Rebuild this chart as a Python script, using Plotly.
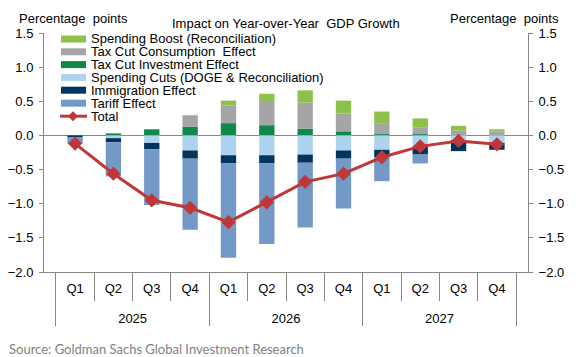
import plotly.graph_objects as go

# ---------------- data ----------------
years = ["2025"] * 4 + ["2026"] * 4 + ["2027"] * 4
quarters = ["Q1", "Q2", "Q3", "Q4"] * 3

spending_boost = [0.00, 0.00, 0.00, 0.01, 0.07, 0.12, 0.18, 0.19, 0.18, 0.13, 0.07, 0.03]
tax_consumption = [0.00, 0.00, 0.00, 0.16, 0.26, 0.34, 0.38, 0.26, 0.15, 0.10, 0.07, 0.06]
tax_investment = [0.00, 0.03, 0.09, 0.13, 0.18, 0.15, 0.10, 0.06, 0.02, 0.02, 0.00, 0.00]
spending_cuts = [0.00, -0.04, -0.11, -0.22, -0.29, -0.29, -0.28, -0.22, -0.21, -0.16, -0.07, -0.11]
immigration = [-0.03, -0.06, -0.09, -0.12, -0.12, -0.12, -0.12, -0.12, -0.11, -0.12, -0.16, -0.10]
tariff = [-0.09, -0.50, -0.82, -1.04, -1.38, -1.18, -0.95, -0.73, -0.35, -0.13, 0.00, 0.00]
total = [-0.12, -0.56, -0.95, -1.06, -1.27, -0.98, -0.68, -0.56, -0.32, -0.16, -0.08, -0.13]

names = {
    "boost": "Spending Boost (Reconciliation)",
    "cons": "Tax Cut Consumption\u00a0 Effect",
    "inv": "Tax Cut Investment Effect",
    "cuts": "Spending Cuts (DOGE & Reconciliation)",
    "imm": "Immigration Effect",
    "tar": "Tariff Effect",
    "tot": "Total",
}
colors = {
    "boost": "#8DC14B",
    "cons": "#A5A5A5",
    "inv": "#10884A",
    "cuts": "#AED3EF",
    "imm": "#003560",
    "tar": "#7399C6",
    "tot": "#C0373A",
}

# ---------------- geometry ----------------
W, H = 576, 357
L, R, T, B = 44, 48, 33, 85
PW, PH = W - L - R, H - T - B
GRAY = "#868686"
FONT = "Liberation Sans, Arial, sans-serif"


def px(x):
    return (x - L) / PW


def py(y):
    return (H - B - y) / PH


# second-level (year) labels get a blank first line so they sit lower, as in the reference
year_labels = ["\u00a0<br>" + y for y in years]
x = [year_labels, quarters]
fig = go.Figure()
for key, vals in [("inv", tax_investment), ("cons", tax_consumption), ("boost", spending_boost),
                  ("cuts", spending_cuts), ("imm", immigration), ("tar", tariff)]:
    fig.add_trace(go.Bar(x=x, y=vals, name=names[key], marker=dict(color=colors[key], line=dict(width=0)),
                         showlegend=False, hoverinfo="skip"))

fig.add_trace(go.Scatter(x=x, y=total, name=names["tot"], mode="lines+markers", yaxis="y2",
                         line=dict(color=colors["tot"], width=3),
                         marker=dict(symbol="diamond", size=11, color=colors["tot"]),
                         showlegend=False, hoverinfo="skip"))

axis_common = dict(range=[-2, 1.5], dtick=0.5, tick0=0, tickformat=".1f", ticks="outside", ticklen=4,
                   tickcolor=GRAY, showline=True, linecolor=GRAY, linewidth=1, showgrid=False,
                   ticklabelstandoff=3, automargin=False, tickfont=dict(size=13, color="#000000"))

fig.update_layout(
    width=W, height=H, margin=dict(l=L, r=R, t=T, b=B, pad=0, autoexpand=False),
    paper_bgcolor="white", plot_bgcolor="white",
    font=dict(family=FONT, size=13, color="#000000"),
    barmode="relative", bargap=0.6,
    showlegend=False, hovermode=False,
    xaxis=dict(type="multicategory", showline=True, linecolor=GRAY, linewidth=1, ticks="outside",
               tickson="boundaries", ticklen=28, tickcolor=GRAY, showdividers=True, dividercolor=GRAY,
               dividerwidth=1, showgrid=False, ticklabelstandoff=4, automargin=False,
               tickfont=dict(size=13, color="#000000")),
    yaxis=dict(**axis_common, zeroline=True, zerolinecolor=GRAY, zerolinewidth=1.5),
    yaxis2=dict(**axis_common, overlaying="y", side="right", zeroline=False),
)

# ---------------- manual legend ----------------
shapes = []
annotations = []
rows = [("boost", 39.0), ("cons", 51.8), ("inv", 64.6), ("cuts", 77.4), ("imm", 90.2), ("tar", 103.2)]
for key, yc in rows:
    shapes.append(dict(type="rect", xref="paper", yref="paper", x0=px(61), x1=px(86),
                       y0=py(yc + 3.5), y1=py(yc - 3.5), fillcolor=colors[key], line=dict(width=0)))
    annotations.append(dict(xref="paper", yref="paper", x=px(89), y=py(yc), text=names[key], showarrow=False,
                            xanchor="left", yanchor="middle", font=dict(size=13, color="#000000")))
yt = 116.2
shapes.append(dict(type="line", xref="paper", yref="paper", x0=px(60), x1=px(87), y0=py(yt), y1=py(yt),
                   line=dict(color=colors["tot"], width=3)))
d = 5
shapes.append(dict(type="path", xref="paper", yref="paper",
                   path=f"M {px(73 - d)} {py(yt)} L {px(73)} {py(yt - d)} L {px(73 + d)} {py(yt)} L {px(73)} {py(yt + d)} Z",
                   fillcolor=colors["tot"], line=dict(width=0)))
annotations.append(dict(xref="paper", yref="paper", x=px(89), y=py(yt), text=names["tot"], showarrow=False,
                        xanchor="left", yanchor="middle", font=dict(size=13, color="#000000")))

# titles / texts
annotations += [
    dict(xref="paper", yref="paper", x=px(17), y=py(18), text="Percentage\u00a0 points", showarrow=False,
         xanchor="left", yanchor="middle", font=dict(size=13, color="#000000")),
    dict(xref="paper", yref="paper", x=px(448), y=py(18), text="Percentage\u00a0 points", showarrow=False,
         xanchor="left", yanchor="middle", font=dict(size=13, color="#000000")),
    dict(xref="paper", yref="paper", x=px(286), y=py(23.5), text="Impact on Year-over-Year\u00a0 GDP Growth",
         showarrow=False, xanchor="center", yanchor="middle", font=dict(size=13, color="#000000")),
    dict(xref="paper", yref="paper", x=px(7), y=py(349), text="Source: Goldman Sachs Global Investment Research",
         showarrow=False, xanchor="left", yanchor="middle", font=dict(family="Lato, sans-serif", size=13,
                                                                      color="#7F7F7F")),
]

fig.update_layout(shapes=shapes, annotations=annotations)
fig.write_html("out.html", config={"displayModeBar": False, "staticPlot": True},
               post_script="document.body.style.margin='0';document.body.style.overflow='hidden';")
